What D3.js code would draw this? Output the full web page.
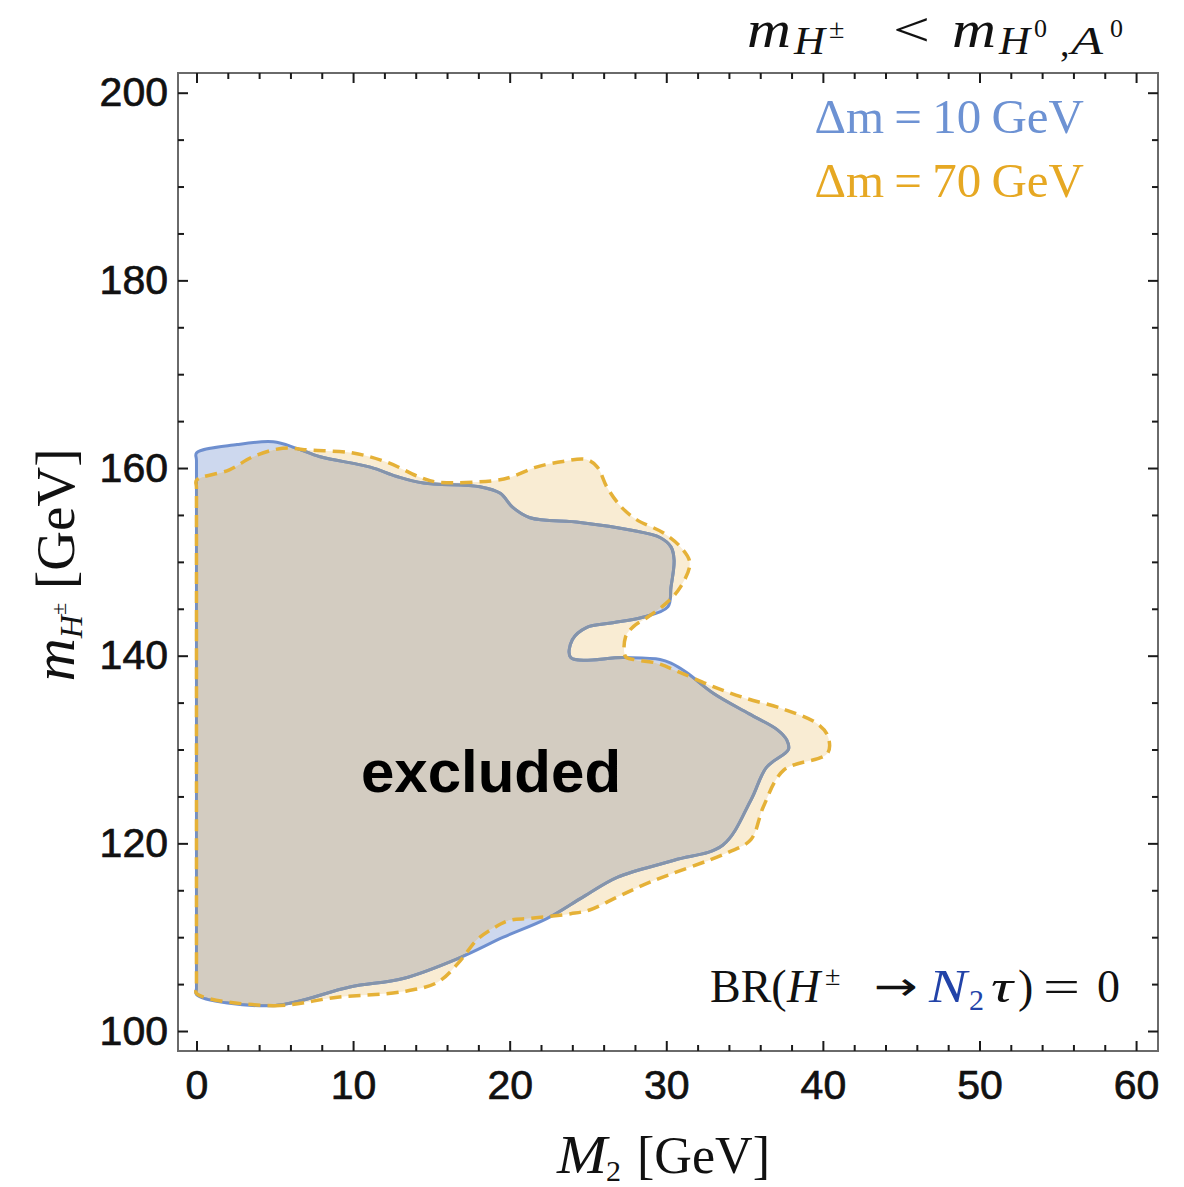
<!DOCTYPE html>
<html><head><meta charset="utf-8">
<script src="https://cdn.jsdelivr.net/npm/d3@7"></script>
<style>body{margin:0;background:#fff}</style>
</head><body>
<svg id="c" width="1184" height="1187"></svg>
<script>
// ---- data (M2 [GeV], m_H± [GeV]) ----
const region10 = [[0,103.9],[4.9,102.7],[9.8,104.7],[13.2,105.6],[16.8,107.8],[19.6,110.0],[22.4,112.0],[24.7,114.3],[26.9,116.4],[30.5,118.2],[33.6,119.8],[35.4,124.6],[36.4,128.1],[37.8,130.0],[37.7,131.0],[37.1,132.1],[35.3,133.8],[33.0,136.0],[31.3,138.2],[30.3,139.2],[29.6,139.6],[27.3,139.8],[23.9,139.8],[24.0,141.7],[24.9,143.0],[26.6,143.5],[28.5,144.1],[30.1,145.2],[30.3,147.3],[30.5,150.2],[30.3,151.6],[29.6,152.6],[27.7,153.4],[24.5,154.2],[21.3,154.7],[20.2,155.8],[19.4,157.3],[18.1,158.0],[14.5,158.4],[12.8,159.1],[11.1,160.1],[7.9,161.2],[6.4,162.1],[4.9,162.8],[2.6,162.5],[0,161.6],[0,160.8],[0,130],[0,104.6]];
const region70 = [[0,104.0],[4.9,102.7],[9.0,103.6],[13.2,104.2],[15.4,105.2],[16.8,107.4],[17.9,109.7],[19.0,111.0],[20.0,111.8],[21.3,112.0],[23.9,112.5],[25.1,112.9],[26.9,114.3],[29.0,115.9],[33.9,119.0],[35.4,120.4],[36.2,123.9],[37.5,127.8],[40.3,129.6],[40.3,131.5],[39.6,132.8],[37.5,134.3],[35.0,135.5],[33.0,136.7],[30.9,138.2],[29.4,139.2],[27.9,139.6],[27.4,139.9],[27.4,142.0],[27.9,143.1],[28.8,144.1],[30.0,145.6],[30.9,147.3],[31.5,149.9],[30.9,151.6],[29.8,153.1],[28.1,154.5],[27.1,155.9],[26.2,158.0],[25.6,160.1],[24.9,160.9],[23.4,160.7],[21.7,160.1],[20.2,159.1],[19.2,158.7],[15.4,158.5],[14.3,159.0],[12.2,160.6],[10.0,161.6],[7.3,161.9],[5.5,162.1],[3.6,161.2],[2.1,159.8],[0,158.7],[0,157.9],[0,130],[0,104.7]];
const xMajorTicks = [0,10,20,30,40,50,60];
const xMinorTicks = [2,4,6,8,12,14,16,18,22,24,26,28,32,34,36,38,42,44,46,48,52,54,56,58];
const yMajorTicks = [100,120,140,160,180,200];
const yMinorTicks = [105,110,115,125,130,135,145,150,155,165,170,175,185,190,195];
const legendLabels = ["\u0394m = 10 GeV","\u0394m = 70 GeV"];
const excludedLabel = "excluded";

// ---- drawing ----
const svg = d3.select("#c");
const L=178, R=1158, T=73, B=1051;
const x = d3.scaleLinear().domain([-1.18, 61.4]).range([L, R]);
const y = d3.scaleLinear().domain([97.87, 202.1]).range([B, T]);
const line = d3.line().x(d=>x(d[0])).y(d=>y(d[1])).curve(d3.curveCatmullRomClosed.alpha(0.5));

const defs = svg.append("defs");
defs.append("clipPath").attr("id","clipO").append("path").attr("d", line(region70));
defs.append("clipPath").attr("id","clipPlot").append("rect").attr("x",L).attr("y",T).attr("width",R-L).attr("height",B-T);

const plot = svg.append("g").attr("clip-path","url(#clipPlot)");
plot.append("path").attr("d", line(region10)).attr("fill","#cdd8ee");
plot.append("path").attr("d", line(region70)).attr("fill","#f9ecd3");
plot.append("path").attr("d", line(region10)).attr("fill","#d3ccc1").attr("clip-path","url(#clipO)");
plot.append("path").attr("d", line(region10)).attr("fill","none").attr("stroke","#6e8fcf").attr("stroke-width",3).attr("stroke-linejoin","round");
plot.append("path").attr("d", line(region10)).attr("fill","none").attr("stroke","#8594aa").attr("stroke-width",3).attr("stroke-linejoin","round").attr("clip-path","url(#clipO)");
plot.append("path").attr("d", line(region70)).attr("fill","none").attr("stroke","#e5b137").attr("stroke-width",3.5).attr("stroke-dasharray","12 7").attr("stroke-linejoin","round");

// frame
svg.append("rect").attr("x",L).attr("y",T).attr("width",R-L).attr("height",B-T).attr("fill","none").attr("stroke","#6a6a6a").attr("stroke-width",2);

function addAxis(fn, scale, vals, size, pad, fmt, tr){
  const g = svg.append("g").attr("transform",tr)
    .call(fn(scale).tickValues(vals).tickSize(size).tickPadding(pad).tickFormat(fmt));
  g.select(".domain").remove();
  g.selectAll(".tick line").attr("stroke","#1a1a1a").attr("stroke-width",2);
  g.selectAll("text").attr("font-family","'Liberation Sans', Arial, sans-serif").attr("font-size",41)
    .attr("fill","#111").attr("stroke","#111").attr("stroke-width",0.7);
  return g;
}
const none = ()=>"";
addAxis(d3.axisBottom, x, xMajorTicks, -10, 19, d3.format("d"), `translate(0,${B})`);
addAxis(d3.axisBottom, x, xMinorTicks, -6, 0, none, `translate(0,${B})`);
addAxis(d3.axisTop, x, xMajorTicks, -10, 0, none, `translate(0,${T})`);
addAxis(d3.axisTop, x, xMinorTicks, -6, 0, none, `translate(0,${T})`);
addAxis(d3.axisLeft, y, yMajorTicks, -10, 10, d3.format("d"), `translate(${L},0)`);
addAxis(d3.axisLeft, y, yMinorTicks, -6, 0, none, `translate(${L},0)`);
addAxis(d3.axisRight, y, yMajorTicks, -10, 0, none, `translate(${R},0)`);
addAxis(d3.axisRight, y, yMinorTicks, -6, 0, none, `translate(${R},0)`);

// serif pieces helper: [text, x, y, size, italic, color, width, family]
const SERIF = "'Liberation Serif', 'Times New Roman', serif";
function pieces(list){
  const g = svg.append("g");
  list.forEach(p=>{
    const t = g.append("text").attr("x",p[1]).attr("y",p[2]).attr("font-size",p[3])
     .attr("font-family",p[7]||SERIF)
     .attr("font-style",p[4]?"italic":"normal").attr("fill",p[5]||"#111").text(p[0]);
    if (p[6]) t.attr("textLength",p[6]).attr("lengthAdjust","spacingAndGlyphs");
  });
  return g;
}
// title
pieces([["m",747,47,52,1,0,44],["H",794,54,40,1,0,31],["\u00b1",829,38,28],["<",893,46,48,0,0,37],
        ["m",952,47,52,1,0,44],["H",999,54,40,1,0,31],["0",1034,37,26],[",",1060,56,38],["A",1071,54,40,1,0,32],["0",1110,37,26]]);
// BR annotation
pieces([["BR(",710,1002,46],["H",787,1002,46,1],["\u00b1",825,985,28],["\u2192",874,1000,40,0,0,44,"'DejaVu Sans', sans-serif"],
        ["N",929,1002,46,1,"#2243a8",38],["2",969,1010,30,0,"#2243a8"],["\u03c4",991,1002,46,1,0,22],[")",1018,1002,46],["=",1043,1002,46,0,0,37],["0",1097,1002,46]]);

// legend
svg.append("g").selectAll("text").data(legendLabels).join("text")
  .attr("x",1084).attr("y",(d,i)=>133+i*64).attr("text-anchor","end")
  .attr("font-family",SERIF).attr("font-size",49).attr("word-spacing",-2)
  .attr("fill",(d,i)=>i===0?"#6d92d3":"#e6a823").text(d=>d);

// excluded label
svg.append("text").attr("x",491).attr("y",792).attr("text-anchor","middle")
  .attr("font-family","'Liberation Sans', Arial, sans-serif").attr("font-weight","bold").attr("font-size",60)
  .attr("fill","#000").text(excludedLabel);

// x axis title
pieces([["M",557,1173,54,1,0,50],["2",606,1181,30],["[GeV]",637,1173,52,0,0,133]]);

// y axis title
const yt = svg.append("text").attr("transform","translate(74,565) rotate(-90)")
  .attr("text-anchor","middle").attr("font-family",SERIF).attr("fill","#111");
yt.append("tspan").attr("font-size",60).attr("font-style","italic").text("m");
yt.append("tspan").attr("font-size",32).attr("font-style","italic").attr("dy",8).text("H");
yt.append("tspan").attr("font-size",22).attr("dy",-16).text("\u00b1");
yt.append("tspan").attr("font-size",55).attr("dy",8).attr("dx",14).text("[GeV]");
</script>
</body></html>
